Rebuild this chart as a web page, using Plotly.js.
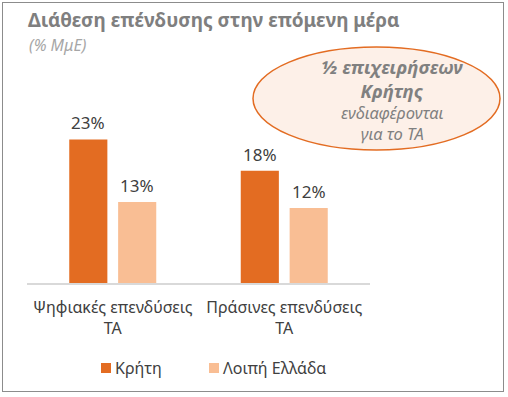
<!DOCTYPE html>
<html><head><meta charset="utf-8">
<script src="https://cdn.plot.ly/plotly-3.0.1.min.js"></script>
<style>
body{margin:0;padding:0;background:#fff;}
#frame{position:absolute;left:2px;top:2px;width:502px;height:390px;border:1px solid #8c8c8c;box-sizing:border-box;}
#chart{position:absolute;left:0;top:0;width:508px;height:397px;}
</style></head>
<body>
<div id="frame"></div>
<div id="chart"></div>
<script>
const categories = ["Ψηφιακές επενδύσεις<br>ΤΑ", "Πράσινες επενδύσεις<br>ΤΑ"];
const seriesNames = ["Κρήτη", "Λοιπή Ελλάδα"];
const creteValues = [23, 18];
const restGreeceValues = [13, 12];
const seriesValues = [creteValues, restGreeceValues];
const seriesColors = ["#E36C22", "#F9BE94"];

const FONT = "Noto Sans, Open Sans, sans-serif";
const textColor = "#404040";
const PW = 343, PH = 163, ML = 27, BASE = 283;
const px2x = p => (p - ML) / PW;
const px2y = p => (BASE - p) / PH;

const traces = seriesValues.map((vals, s) => ({
  type: "bar",
  name: seriesNames[s],
  x: categories,
  y: vals,
  marker: {color: seriesColors[s]},
  hoverinfo: "none",
  showlegend: false
}));

const bargap = 0.43, bargroupgap = 0.22;
const slot = (1 - bargap) / seriesValues.length;
const annotations = [];
const shapes = [];
seriesValues.forEach((vals, s) => {
  vals.forEach((v, i) => {
    annotations.push({
      x: i - (1 - bargap) / 2 + slot * (s + 0.5),
      y: v, xref: "x", yref: "y",
      text: v + "%", showarrow: false,
      yanchor: "bottom", yshift: 3,
      font: {family: FONT, size: 17, color: textColor}
    });
  });
});

// legend (custom, to match swatch/text spacing)
const legendSwatchX = [101, 209];
const legendY = 368;
seriesNames.forEach((n, s) => {
  shapes.push({type: "rect", xref: "paper", yref: "paper",
    x0: px2x(legendSwatchX[s]), x1: px2x(legendSwatchX[s] + 10),
    y0: px2y(legendY + 5), y1: px2y(legendY - 5),
    line: {width: 0}, fillcolor: seriesColors[s]});
  annotations.push({xref: "paper", yref: "paper", x: px2x(legendSwatchX[s] + 13), y: px2y(legendY),
    xanchor: "left", yanchor: "middle", text: n, showarrow: false, borderpad: 0,
    font: {family: FONT, size: 16, color: textColor}});
});

// subtitle
annotations.push({xref: "paper", yref: "paper", x: px2x(28), y: px2y(45), xanchor: "left", yanchor: "middle",
  text: "<i>(% ΜμΕ)</i>", showarrow: false, borderpad: 0, font: {family: FONT, size: 16, color: "#a6a6a6"}});

// callout text
const calloutX = px2x(392);
annotations.push({xref: "paper", yref: "paper", x: calloutX, y: px2y(79),
  xanchor: "center", yanchor: "middle", text: "<b><i>½ επιχειρήσεων<br>Κρήτης</i></b>", showarrow: false, borderpad: 0,
  font: {family: FONT, size: 18.5, color: "#808080"}});
annotations.push({xref: "paper", yref: "paper", x: calloutX, y: px2y(122.5),
  xanchor: "center", yanchor: "middle", text: "<i>ενδιαφέρονται<br>για το ΤΑ</i>", showarrow: false, borderpad: 0,
  font: {family: FONT, size: 16.5, color: "#808080"}});

shapes.unshift({type: "circle", xref: "paper", yref: "paper",
  x0: px2x(253), x1: px2x(500), y0: px2y(150), y1: px2y(47),
  line: {color: "#E36C22", width: 1.5}, fillcolor: "#FDF0E8", layer: "above"});

const layout = {
  width: 508, height: 397,
  margin: {l: ML, r: 508 - ML - PW, t: BASE - PH, b: 397 - BASE, pad: 0},
  paper_bgcolor: "rgba(0,0,0,0)", plot_bgcolor: "rgba(0,0,0,0)",
  barmode: "group", bargap: bargap, bargroupgap: bargroupgap,
  title: {text: "<b>Διάθεση επένδυσης στην επόμενη μέρα</b>", x: 28/508, xanchor: "left", xref: "container",
    y: 1 - 20/397, yref: "container", yanchor: "middle",
    font: {family: FONT, size: 19, color: "#7f7f7f"}},
  xaxis: {showgrid: false, zeroline: false, showline: true, linecolor: "#d9d9d9", linewidth: 1.5,
    ticks: "outside", ticklen: 9, tickcolor: "rgba(0,0,0,0)",
    tickfont: {family: FONT, size: 16, color: textColor}, fixedrange: true},
  yaxis: {visible: false, range: [0, PH/6.24], showgrid: false, zeroline: false, fixedrange: true},
  showlegend: false,
  shapes: shapes,
  annotations: annotations
};

Plotly.newPlot("chart", traces, layout, {displayModeBar: false, staticPlot: true});
</script>
</body></html>
